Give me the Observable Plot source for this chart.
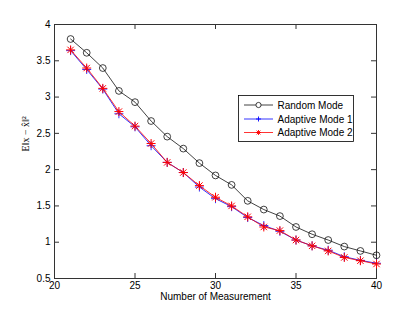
<!DOCTYPE html>
<html>
<head>
<meta charset="utf-8">
<script src="https://cdn.jsdelivr.net/npm/d3@7"></script>
<script src="https://cdn.jsdelivr.net/npm/@observablehq/plot@0.6"></script>
<style>
  html, body { margin: 0; padding: 0; background: #fff; }
  #chart { position: relative; width: 415px; height: 313px; }
</style>
</head>
<body>
<div id="chart"></div>
<script>
// ---- data ----
const measurements = [21,22,23,24,25,26,27,28,29,30,31,32,33,34,35,36,37,38,39,40];
const randomMode   = [3.80,3.61,3.40,3.085,2.93,2.67,2.455,2.29,2.09,1.92,1.79,1.57,1.45,1.36,1.21,1.11,1.03,0.94,0.88,0.82];
const adaptive1    = [3.64,3.38,3.11,2.77,2.59,2.33,2.10,1.96,1.76,1.60,1.49,1.34,1.23,1.15,1.03,0.95,0.89,0.80,0.75,0.71];
const adaptive2    = [3.65,3.40,3.12,2.80,2.60,2.36,2.10,1.96,1.78,1.62,1.50,1.35,1.21,1.16,1.03,0.95,0.88,0.79,0.745,0.70];
const seriesNames  = ["Random Mode", "Adaptive Mode 1", "Adaptive Mode 2"];
const xTicks = [20,25,30,35,40];
const yTicks = [0.5,1,1.5,2,2.5,3,3.5,4];
const xLabel = "Number of Measurement";
const yLabel = "E\u2016x \u2212 x\u0302\u2016\u00B2";

// ---- layout ----
const W = 415, H = 313;
const mL = 54, mR = 39, mT = 24, mB = 35;
const innerW = W - mL - mR, innerH = H - mT - mB;
const tick = 5;

const rows = (vals) => measurements.map((x, i) => ({x, y: vals[i]}));
const dRandom = rows(randomMode), dA1 = rows(adaptive1), dA2 = rows(adaptive2);

const black = "#111", blue = "#0000ff", red = "#ff0000";
const fmt = d => String(d);

const chart = Plot.plot({
  width: W, height: H,
  marginLeft: mL, marginRight: mR, marginTop: mT, marginBottom: mB,
  x: {domain: [20, 40], label: null},
  y: {domain: [0.5, 4], label: null},
  style: {fontFamily: "'Liberation Sans', Arial, sans-serif", fontSize: "10px", background: "#fff", color: "#000"},
  marks: [
    // inward ticks on all four sides
    Plot.tickX(xTicks, {x: d => d, insetTop: innerH - tick, stroke: "#333"}),
    Plot.tickX(xTicks, {x: d => d, insetBottom: innerH - tick, stroke: "#333"}),
    Plot.tickY(yTicks, {y: d => d, insetRight: innerW - tick, stroke: "#333"}),
    Plot.tickY(yTicks, {y: d => d, insetLeft: innerW - tick, stroke: "#333"}),
    Plot.frame({stroke: "#333", strokeWidth: 1}),
    Plot.axisX(xTicks, {tickSize: 0, tickPadding: 3, tickFormat: fmt, label: null}),
    Plot.axisY(yTicks, {tickSize: 0, tickPadding: 4, tickFormat: fmt, label: null}),
    Plot.text([xLabel], {frameAnchor: "bottom", dy: 21, text: d => d, fontSize: 10}),
    Plot.text([yLabel], {frameAnchor: "left", dx: -29, rotate: -90, text: d => d,
      fontFamily: "'Liberation Serif', 'DejaVu Serif', serif", fontSize: 10}),
    // Random Mode
    Plot.line(dRandom, {x: "x", y: "y", stroke: black, strokeWidth: 0.8}),
    Plot.dot(dRandom, {x: "x", y: "y", r: 3.4, stroke: black, fill: "none", strokeWidth: 0.8}),
    // Adaptive Mode 1
    Plot.line(dA1, {x: "x", y: "y", stroke: blue, strokeWidth: 0.8}),
    Plot.dot(dA1, {x: "x", y: "y", symbol: "plus", r: 3, stroke: blue, strokeWidth: 0.8}),
    // Adaptive Mode 2
    Plot.line(dA2, {x: "x", y: "y", stroke: red, strokeWidth: 0.8}),
    Plot.dot(dA2, {x: "x", y: "y", symbol: "plus", r: 3, stroke: red, strokeWidth: 1}),
    Plot.dot(dA2, {x: "x", y: "y", symbol: "times", r: 3, stroke: red, strokeWidth: 1})
  ]
});

document.getElementById("chart").appendChild(chart);

// ---- legend (inside the plot area, drawn into the same svg) ----
const svg = d3.select(chart);
const lg = svg.append("g").attr("class", "legend").attr("text-anchor", "start");
const box = {x: 238.5, y: 95.5, w: 115, h: 46};
lg.append("rect").attr("x", box.x).attr("y", box.y).attr("width", box.w).attr("height", box.h)
  .style("fill", "#fff").style("stroke", "#000").style("stroke-width", "0.8px");
const colors = [black, blue, red];
const rowY = [105, 119, 132.5];
seriesNames.forEach((name, i) => {
  const y = rowY[i];
  lg.append("line").attr("x1", 244).attr("x2", 273).attr("y1", y).attr("y2", y)
    .style("stroke", colors[i]).style("stroke-width", "0.8px");
  const cx = 258.5;
  if (i === 0) {
    lg.append("circle").attr("cx", cx).attr("cy", y).attr("r", 2.6)
      .style("fill", "#fff").style("stroke", black).style("stroke-width", "0.8px");
  } else {
    const s = 2.5;
    lg.append("path").attr("d", `M${cx - s},${y}H${cx + s}M${cx},${y - s}V${y + s}`)
      .style("fill", "none").style("stroke", colors[i]).style("stroke-width", "0.9px");
    if (i === 2) {
      const t = 1.9;
      lg.append("path").attr("d", `M${cx - t},${y - t}L${cx + t},${y + t}M${cx - t},${y + t}L${cx + t},${y - t}`)
        .style("fill", "none").style("stroke", colors[i]).style("stroke-width", "0.9px");
    }
  }
  lg.append("text").attr("x", 277.5).attr("y", y).attr("dy", "0.35em")
    .style("text-anchor", "start")
    .style("font-family", "'Liberation Sans', Arial, sans-serif").style("font-size", "10px")
    .style("fill", "#000").text(name);
});
</script>
</body>
</html>
